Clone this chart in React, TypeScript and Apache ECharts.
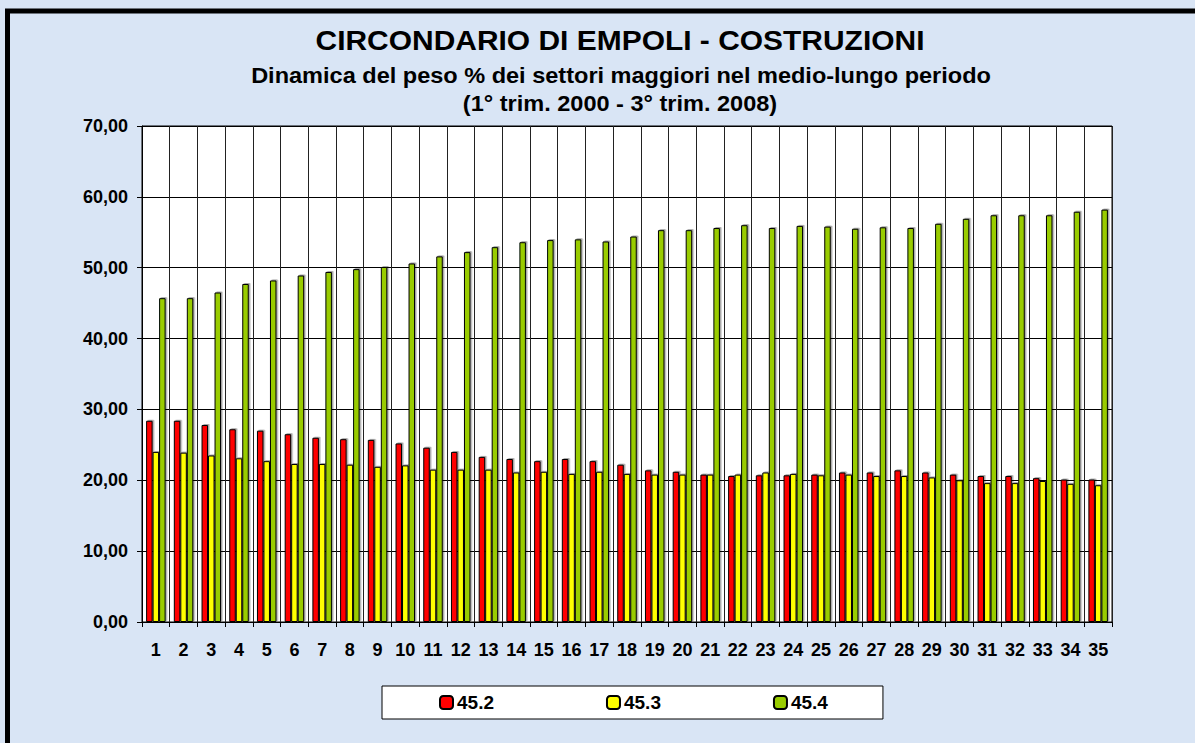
import React, { useEffect, useRef } from "react";
import * as echarts from "echarts";

const categories = Array.from({ length: 35 }, (_, i) => String(i + 1));

const s452 = [
  28.4, 28.4, 27.8, 27.2, 27.0, 26.5, 26.0, 25.8, 25.7, 25.2, 24.6, 24.0,
  23.3, 23.0, 22.7, 23.0, 22.7, 22.2, 21.4, 21.2, 20.8, 20.6, 20.7, 20.7,
  20.8, 21.1, 21.1, 21.4, 21.1, 20.8, 20.6, 20.6, 20.3, 20.1, 20.1,
];
const s453 = [
  24.0, 23.9, 23.5, 23.1, 22.7, 22.3, 22.3, 22.2, 21.9, 22.1, 21.5, 21.5,
  21.5, 21.1, 21.2, 20.9, 21.2, 20.9, 20.8, 20.8, 20.8, 20.8, 21.1, 20.9,
  20.7, 20.8, 20.6, 20.6, 20.4, 20.0, 19.6, 19.6, 19.9, 19.5, 19.3,
];
const s454 = [
  45.7, 45.7, 46.5, 47.7, 48.2, 48.9, 49.4, 49.8, 50.1, 50.6, 51.6, 52.2,
  52.9, 53.6, 53.9, 54.0, 53.7, 54.4, 55.3, 55.3, 55.6, 56.0, 55.6, 55.9,
  55.8, 55.5, 55.7, 55.6, 56.2, 56.9, 57.4, 57.4, 57.4, 57.9, 58.2,
];
const seriesNames = ["45.2", "45.3", "45.4"];
const seriesColors = ["#ff0000", "#ffff00", "#99cc00"];

const FONT = "'Liberation Sans', Arial, sans-serif";

export default function App() {
  const ref = useRef<HTMLDivElement>(null);
  useEffect(() => {
    if (!ref.current) return;
    const chart = echarts.init(ref.current, null, { renderer: "svg" });
    const data = [s452, s453, s454];
    chart.setOption({
      animation: false,
      backgroundColor: "#d9e5f5",
      textStyle: { fontFamily: FONT },
      graphic: [
        {
          type: "rect",
          shape: { x: 7.5, y: 11, width: 1400, height: 900 },
          style: { fill: "none", stroke: "#000", lineWidth: 5 },
          silent: true,
        },
        {
          type: "text",
          x: 620,
          y: 40,
          scaleX: 1.07,
          style: {
            text: "CIRCONDARIO DI EMPOLI - COSTRUZIONI",
            font: "bold 28px " + FONT,
            fill: "#000",
            textAlign: "center",
            textVerticalAlign: "middle",
          },
        },
        {
          type: "text",
          x: 621,
          y: 75,
          scaleX: 1.07,
          style: {
            text: "Dinamica del peso % dei settori maggiori nel medio-lungo periodo",
            font: "bold 22px " + FONT,
            fill: "#000",
            textAlign: "center",
            textVerticalAlign: "middle",
          },
        },
        {
          type: "text",
          x: 620,
          y: 103,
          scaleX: 1.07,
          style: {
            text: "(1° trim. 2000 - 3° trim. 2008)",
            font: "bold 22px " + FONT,
            fill: "#000",
            textAlign: "center",
            textVerticalAlign: "middle",
          },
        },
      ],
      legend: {
        left: 382,
        top: 686,
        padding: [7, 55, 7, 57],
        itemGap: 112,
        itemWidth: 13,
        itemHeight: 13,
        backgroundColor: "#ffffff",
        borderColor: "#000",
        borderWidth: 1,
        textStyle: { fontSize: 19, fontWeight: "bold", color: "#000", fontFamily: FONT, padding: [0, 0, 0, -1] },
        data: seriesNames,
      },
      grid: { left: 142, right: 83, top: 126, bottom: 121, containLabel: false },
      xAxis: {
        type: "category",
        data: categories,
        boundaryGap: true,
        axisLine: { lineStyle: { color: "#000", width: 1 } },
        axisTick: { show: true, length: 5, lineStyle: { color: "#000" } },
        axisLabel: {
          interval: 0,
          fontSize: 18,
          fontWeight: "bold",
          color: "#000",
          margin: 19,
          fontFamily: FONT,
        },
        splitLine: { show: true, interval: 0, lineStyle: { color: "#222", width: 1 } },
      },
      yAxis: {
        type: "value",
        min: 0,
        max: 70,
        interval: 10,
        axisLine: { show: true, lineStyle: { color: "#000", width: 1 } },
        axisTick: { show: true, length: 5, lineStyle: { color: "#000" } },
        axisLabel: {
          fontSize: 18,
          fontWeight: "bold",
          color: "#000",
          margin: 14,
          fontFamily: FONT,
          formatter: (v: number) => v.toFixed(2).replace(".", ","),
        },
        splitLine: { show: true, lineStyle: { color: "#000", width: 1 } },
      },
      series: data.map((d, i) => ({
        name: seriesNames[i],
        type: "bar",
        data: d,
        barWidth: 6.5,
        barGap: "0%",
        itemStyle: {
          color: seriesColors[i],
          borderColor: "#000",
          borderWidth: 1,
          shadowColor: "rgba(0,0,0,0.35)",
          shadowOffsetX: 1.5,
          shadowOffsetY: -1,
          shadowBlur: 0,
        },
      })),
    });
    chart.setOption({
      grid: { show: true, backgroundColor: "#ffffff", borderColor: "#000", borderWidth: 1 },
    });
    return () => chart.dispose();
  }, []);
  return (
    <div
      ref={ref}
      style={{ position: "fixed", left: 0, top: 0, width: 1195, height: 743 }}
    />
  );
}
